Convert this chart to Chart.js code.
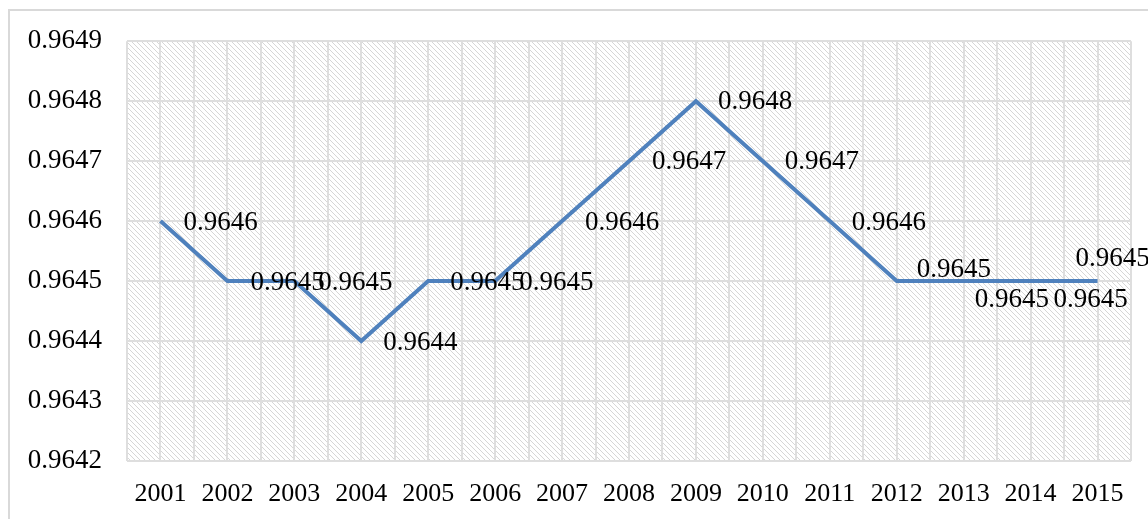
<!DOCTYPE html>
<html>
<head>
<meta charset="utf-8">
<script src="https://cdn.jsdelivr.net/npm/chart.js@4"></script>
<style>
html,body{margin:0;padding:0;background:#fff;}
#wrap{position:relative;width:1148px;height:519px;}
</style>
</head>
<body>
<div id="wrap"><canvas id="c" width="1148" height="519"></canvas></div>
<script>
// ---- data ----
const years = ['2001','2002','2003','2004','2005','2006','2007','2008','2009','2010','2011','2012','2013','2014','2015'];
const values = [0.9646,0.9645,0.9645,0.9644,0.9645,0.9645,0.9646,0.9647,0.9648,0.9647,0.9646,0.9645,0.9645,0.9645,0.9645];
const yMin = 0.9642, yMax = 0.9649, yStep = 0.0001;

// ---- label nudges (layout, px relative to point) ----
const labelNudge = [[23,2],[23,2],[24,2],[22,2],[22,2],[24,2],[23,2],[23,1],[22,1],[22,1],[22,2],[20,-11],[11,19],[23,19],[-22,-22]];

const FONT = '"Liberation Serif","Times New Roman",serif';

function makePattern(ctx){
  const t = document.createElement('canvas');
  t.width = 5; t.height = 5;
  const g = t.getContext('2d');
  g.fillStyle = '#ffffff'; g.fillRect(0,0,5,5);
  g.fillStyle = '#d6d6d6';
  for (let y=0;y<5;y++){ g.fillRect(y % 5, y, 1, 1); }
  return ctx.createPattern(t,'repeat');
}

const bgPlugin = {
  id:'bg',
  beforeDraw(chart){
    const {ctx, chartArea:a} = chart;
    ctx.save();
    ctx.fillStyle = '#fff';
    ctx.fillRect(0,0,chart.width,chart.height);
    // outer frame
    ctx.strokeStyle = '#d9d9d9'; ctx.lineWidth = 2;
    ctx.beginPath(); ctx.moveTo(9,chart.height+2); ctx.lineTo(9,10); ctx.lineTo(chart.width+2,10); ctx.stroke();
    ctx.fillStyle = makePattern(ctx);
    ctx.fillRect(a.left,a.top,a.right-a.left,a.bottom-a.top);
    ctx.restore();
  }
};

const labelPlugin = {
  id:'vlabels',
  afterDatasetsDraw(chart){
    const ctx = chart.ctx;
    const meta = chart.getDatasetMeta(0);
    ctx.save();
    ctx.font = '27px ' + FONT;
    ctx.fillStyle = '#000';
    ctx.textAlign = 'left';
    ctx.textBaseline = 'middle';
    meta.data.forEach((pt,i)=>{
      const n = labelNudge[i];
      ctx.fillText(values[i].toFixed(4), pt.x + n[0], pt.y + n[1]);
    });
    ctx.restore();
  }
};

new Chart(document.getElementById('c'), {
  type:'line',
  data:{
    labels: years,
    datasets:[{
      data: values,
      borderColor:'#4f81bd',
      borderWidth:4,
      pointRadius:0,
      pointHoverRadius:0,
      tension:0,
      fill:false,
      xAxisID:'x',
      yAxisID:'y'
    }]
  },
  options:{
    responsive:false,
    devicePixelRatio:1,
    animation:false,
    layout:{padding:{top:40,right:17,left:0,bottom:0}},
    plugins:{legend:{display:false},tooltip:{enabled:false}},
    scales:{
      y:{
        min:yMin, max:yMax,
        ticks:{stepSize:yStep, color:'#000', font:{family:FONT,size:27}, padding:25,
          callback:(v)=>Number(v).toFixed(4)},
        grid:{color:'#dedede', lineWidth:2, drawTicks:false},
        border:{display:false},
        afterFit(s){ s.width = 127; }
      },
      x:{
        type:'category',
        offset:true,
        ticks:{color:'#000', font:{family:FONT,size:26}, padding:18, maxRotation:0, autoSkip:false},
        grid:{color:'#dedede', lineWidth:2, drawTicks:false, offset:true},
        border:{display:false},
        afterFit(s){ s.height = 58; }
      },
      x2:{
        type:'category',
        labels: years,
        position:'bottom',
        offset:true,
        ticks:{display:false},
        grid:{color:'#dedede', lineWidth:2, drawTicks:false, offset:false},
        border:{display:false},
        afterFit(s){ s.height = 0; }
      }
    }
  },
  plugins:[bgPlugin,labelPlugin]
});
</script>
</body>
</html>
